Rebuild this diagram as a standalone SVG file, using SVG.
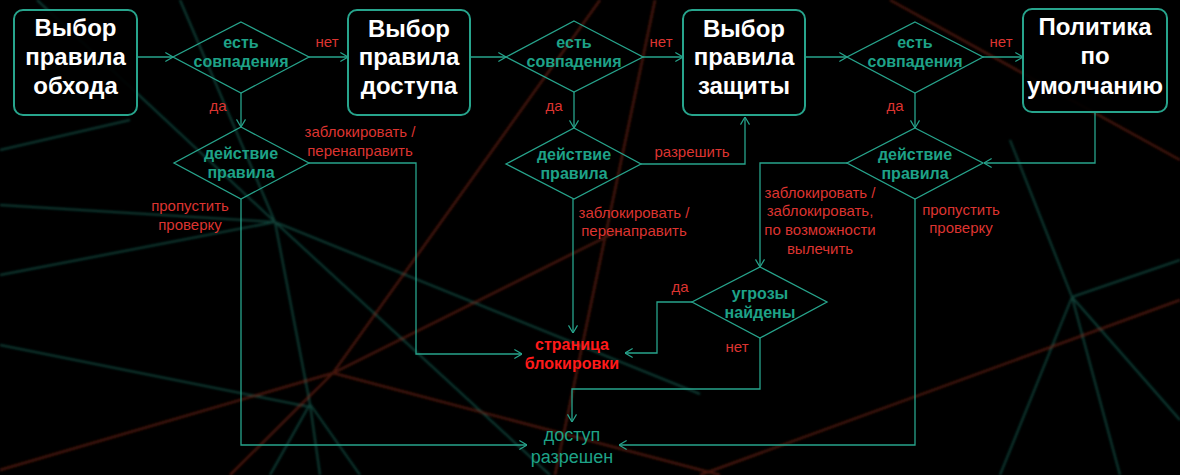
<svg xmlns="http://www.w3.org/2000/svg" width="1180" height="475" viewBox="0 0 1180 475">
<defs>
<style>
.bgt{stroke:#1f8a78;stroke-width:2;fill:none;opacity:0.45}
.bgr{stroke:#8a2a1a;stroke-width:2.5;fill:none;opacity:0.5}
.box{fill:#000;fill-opacity:0.9;stroke:#27a48c;stroke-width:2}
.dia{fill:none;stroke:#27a48c;stroke-width:1.3}
.con{fill:none;stroke:#27a48c;stroke-width:1.3;marker-end:url(#arr)}
.bt{font-family:"Liberation Sans",Arial,sans-serif;font-weight:bold;font-size:24px;fill:#fff;text-anchor:middle}
.dt{font-family:"Liberation Sans",Arial,sans-serif;font-weight:bold;font-size:16px;fill:#1ea287;text-anchor:middle}
.lb{font-family:"Liberation Sans",Arial,sans-serif;font-size:15px;fill:#dc3430;text-anchor:middle}
.rt{font-family:"Liberation Sans",Arial,sans-serif;font-weight:bold;font-size:16px;fill:#ff1a1a;text-anchor:middle}
.ok{font-family:"Liberation Sans",Arial,sans-serif;font-size:18px;fill:#1ea287;text-anchor:middle}
</style>
<marker id="arr" viewBox="0 0 10 12" refX="9.5" refY="6" markerWidth="9" markerHeight="11" markerUnits="userSpaceOnUse" orient="auto">
<path d="M1,1 L9.5,6 L1,11" fill="none" stroke="#27a48c" stroke-width="1.3"/>
</marker>
<filter id="blur" x="-10%" y="-10%" width="120%" height="120%"><feGaussianBlur stdDeviation="1"/></filter>
</defs>
<rect width="1180" height="475" fill="#000"/>
<g id="background" filter="url(#blur)">
<path class="bgt" d="M275,222 L0,275 M275,222 L0,205 M275,222 L37,0 M275,222 L180,0 M275,222 L700,394 M275,222 L550,475 M275,222 L310,404 L320,475 M0,345 L310,407 M310,404 L360,475 M310,404 L270,475 M1072,297 L1000,475 M1072,297 L1180,260 M1072,297 L1180,420 M1072,297 L1010,140 M1072,297 L1120,475 M0,150 L130,120"/>
<path class="bgr" d="M0,470 L333,373 L620,230 M600,0 L333,373 L230,475 M655,0 L555,475 M890,0 L1180,160 M700,475 L1180,300 M333,373 L720,475"/>
</g>
<g id="connectors">
<path class="con" d="M137,57 H173"/>
<path class="con" d="M309,57 H348"/>
<path class="con" d="M241,93 V127"/>
<path class="con" d="M309,163 H416 V354 H522"/>
<path class="con" d="M241,199 V445 H527"/>
<path class="con" d="M470,57 H506"/>
<path class="con" d="M643,57 H683"/>
<path class="con" d="M574,92 V128"/>
<path class="con" d="M641,164 H745 V117"/>
<path class="con" d="M573,199 V333"/>
<path class="con" d="M805,57 H847"/>
<path class="con" d="M983,57 H1023"/>
<path class="con" d="M915,93 V128"/>
<path class="con" d="M1095,112 V163 H984"/>
<path class="con" d="M847,163 H760 V267"/>
<path class="con" d="M692,302 H657 V353 H625"/>
<path class="con" d="M760,338 V389 H572 V422"/>
<path class="con" d="M915,199 V445 H619"/>
</g>
<g id="labels">
<text class="lb" x="327" y="47">нет</text>
<text class="lb" x="661" y="47">нет</text>
<text class="lb" x="1001" y="47">нет</text>
<text class="lb" x="218" y="111">да</text>
<text class="lb" x="554" y="111">да</text>
<text class="lb" x="895" y="111">да</text>
<text class="lb" x="360" y="137">заблокировать /</text>
<text class="lb" x="360" y="156">перенаправить</text>
<text class="lb" x="190" y="211">пропустить</text>
<text class="lb" x="190" y="230">проверку</text>
<text class="lb" x="692" y="157">разрешить</text>
<text class="lb" x="634" y="218">заблокировать /</text>
<text class="lb" x="634" y="236">перенаправить</text>
<text class="lb" x="820" y="198">заблокировать /</text>
<text class="lb" x="820" y="216">заблокировать,</text>
<text class="lb" x="820" y="235">по возможности</text>
<text class="lb" x="820" y="254">вылечить</text>
<text class="lb" x="961" y="215">пропустить</text>
<text class="lb" x="961" y="233">проверку</text>
<text class="lb" x="680" y="292">да</text>
<text class="lb" x="737" y="352">нет</text>
</g>
<g id="box-bypass">
<rect class="box" x="14" y="10" width="123" height="105" rx="9"/>
<text class="bt" x="75.5" y="36">Выбор</text>
<text class="bt" x="75.5" y="65">правила</text>
<text class="bt" x="75.5" y="94">обхода</text>
</g>
<g id="box-access">
<rect class="box" x="348" y="10" width="122" height="105" rx="9"/>
<text class="bt" x="409" y="37">Выбор</text>
<text class="bt" x="409" y="65">правила</text>
<text class="bt" x="409" y="94">доступа</text>
</g>
<g id="box-protect">
<rect class="box" x="683" y="10" width="122" height="105" rx="9"/>
<text class="bt" x="744" y="37">Выбор</text>
<text class="bt" x="744" y="65">правила</text>
<text class="bt" x="744" y="94">защиты</text>
</g>
<g id="box-default">
<rect class="box" x="1023" y="9" width="144" height="103" rx="9"/>
<text class="bt" x="1095" y="35">Политика</text>
<text class="bt" x="1095" y="64">по</text>
<text class="bt" x="1095" y="94">умолчанию</text>
</g>
<g id="match1">
<polygon class="dia" points="241,22 309,57 241,93 173,57"/>
<text class="dt" x="241" y="48">есть</text>
<text class="dt" x="241" y="67">совпадения</text>
</g>
<g id="match2">
<polygon class="dia" points="574,21 643,57 574,92 506,57"/>
<text class="dt" x="574" y="48">есть</text>
<text class="dt" x="574" y="67">совпадения</text>
</g>
<g id="match3">
<polygon class="dia" points="915,22 983,57 915,93 847,57"/>
<text class="dt" x="915" y="48">есть</text>
<text class="dt" x="915" y="67">совпадения</text>
</g>
<g id="action1">
<polygon class="dia" points="241,127 309,163 241,199 174,163"/>
<text class="dt" x="241" y="159">действие</text>
<text class="dt" x="241" y="178">правила</text>
</g>
<g id="action2">
<polygon class="dia" points="574,128 641,164 574,199 506,164"/>
<text class="dt" x="574" y="160">действие</text>
<text class="dt" x="574" y="179">правила</text>
</g>
<g id="action3">
<polygon class="dia" points="915,128 983,163 915,199 847,163"/>
<text class="dt" x="915" y="160">действие</text>
<text class="dt" x="915" y="179">правила</text>
</g>
<g id="threats">
<polygon class="dia" points="760,267 827,302 760,338 692,302"/>
<text class="dt" x="760" y="299">угрозы</text>
<text class="dt" x="760" y="318">найдены</text>
</g>
<g id="block-page">
<text class="rt" x="572" y="350">страница</text>
<text class="rt" x="572" y="369">блокировки</text>
</g>
<g id="access-granted">
<text class="ok" x="572" y="441">доступ</text>
<text class="ok" x="572" y="463">разрешен</text>
</g>
</svg>
